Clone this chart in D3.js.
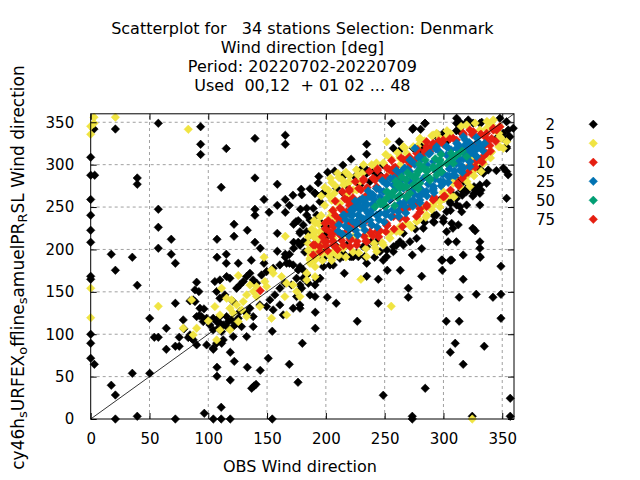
<!DOCTYPE html>
<html><head><meta charset="utf-8">
<script src="https://cdn.jsdelivr.net/npm/d3@7"></script>
<style>body{margin:0;background:#fff}svg{display:block}text{font-family:"DejaVu Sans",sans-serif;fill:#000;white-space:pre}</style>
</head><body><div id="chart"></div>
<script>
const titleLines = ["Scatterplot for   34 stations Selection: Denmark","Wind direction [deg]","Period: 20220702-20220709","Used  00,12  + 01 02 ... 48"];
const xLabel = "OBS Wind direction";
const yLabelParts = [["cy46h",0],["s",1],["URFEX",0],["o",1],["ffline",0],["s",1],["amuelPR",0],["R",1],["SL Wind direction",0]];
const xTicks = [0,50,100,150,200,250,300,350];
const yTicks = [0,50,100,150,200,250,300,350];
const legendLabels = ["2","5","10","25","50","75"];

const black2 = [
[57.5,348.8],[93.5,344.8],[2.8,342],[21,342],[139.7,331],[165.5,334.7],[165.5,324],[93.5,324],[93.5,312],[115.3,319],
[0,308.7],[0,287.5],[3.4,287.5],[39.6,284.3],[39.6,276.9],[139.7,284.3],[111,273.3],[158.7,276.9],[0,259],[147.4,259],
[165.5,259],[158.7,252],[169,252],[57.5,247.4],[139.7,247.4],[139.7,240.3],[151.7,243.8],[165.5,243.8],[178.4,247.4],[0,240.3],
[0,222.6],[0,208.4],[57.5,226.1],[121.9,229.7],[133.2,222.6],[121.9,215.5],[172.6,229.7],[174.6,232.8],[176.5,234],[158.7,219],
[68.5,212],[107.4,212],[139.7,208.4],[172.6,208.4],[176.5,208.4],[172.6,201.4],[57.5,201.4],[144.2,201.4],[17.5,194.3],[35.4,190.8],
[68.5,194.3],[107.4,190.8],[115.3,194.3],[158.7,197.8],[165.5,194.3],[169,194.3],[165.5,190.8],[72,183.7],[115.3,183.7],[125.5,183.7],
[136.6,187.2],[147.4,183.7],[169,183.7],
[21,175.4],[0,168.3],[0,164.8],[39.6,157.7],[90.1,161.3],[72,136.5],[50.2,118.8],[0,99.9],[0,89.3],[0,71.6],[3.1,64.5],
[64.3,107],[54.1,96.4],[57.5,96.4],[75.3,96.4],[64.3,82.2],[72,85.8],[75.3,85.8],[35.4,53.9],[50.2,53.9],[17.5,39.8],[21,28.3],
[21,0],[39.6,3.2],[72,0],[96.6,6.7],[104.3,0],[111,0],[118.7,0],[111,13.8],[107.4,50.4],[107.4,61],[122.1,68],[118.7,78.7],
[104.3,82.2],[111.4,89.3],[144.2,57.4],[133.2,61],[151,71.6],[168.9,64.5],[136.9,36.2],[138.9,38.9],[140.6,40.9],[176.3,43.3],
[154.4,103.5],[118.7,46],[154.4,0],
[273.5,193.5],[299,187.2],[305.8,187.2],[331.3,190.8],[348.9,180.1],[299,175.4],[248.8,187.2],[252.2,175.4],[263.3,175.4],[234.7,183.7],
[241.5,190.8],[215.7,171.9],[234.7,168.3],[244.6,164.8],[281.5,168.3],[316.8,164.8],[270.1,154.2],[270.1,143.6],[313.4,143.6],[327.9,147.1],
[342.1,143.6],[348.9,147.1],[201.2,143.6],[208.8,136.5],[244.6,136.5],[191,125.9],[226.7,115.3],[191,107],[302.4,115.3],[313.4,115.3],
[348.9,118.8],[180,89.3],[310,89.3],[305.8,78.7],[334.7,85.8],[316.8,64.5],[284.5,36.2],[248.8,28],[356.8,24.4],[273.5,3.2],
[273.5,0],[324.5,3.2],[356.8,3.2],
[255.9,348.8],[273.8,341.7],[280.6,341.7],[284.3,348.8],[234.7,324],[234.7,312.3],[262.4,327.1],[262.4,316.1],[229.8,294.5],[201.5,291],
[215.6,287.5],[190.7,266.3],[197.8,266.3],[214.8,266.3],
[314,350],[319.7,350],[325.3,349],[332.5,350],[311,340],[314,339],[353.6,328],[353.6,321],[331,293],[324,293],
[311,282],[317,280],[325,263],[330,268],[332,270],[345,293],[351,296],[355,288],[307,266],[311,260],
[319.7,252.4],[331,252.4],[315.5,244.5],[294,240.6],[300,236.7],[307,230.8],[308,225],[302.7,221],[312.6,229],[304,209],
[311,209],[325,225],[327,222],[331,209],[331,201.4],[331,191.5],[281.5,201],[298.5,187.5],[307,187.5],[316.8,193.5],
[233,191.5],[234.7,203],[260,205],[217.7,205],[222,191.5],[195,205],[198,197],[191,191.5],[182,197],[178,205],
[88.7,152.3],[92,150.3],[87.2,140.5],[84.4,139.3],[88.7,138.5],[92.9,130.6],[96.3,129.9],[92.3,122],[90.1,120.8],
[94.3,120.8],[98.6,118.8],[95.7,114.9],[84.4,99.2],[83,96.1],[85.8,95.3],[87.2,93.3],[78.7,116.9],[90.1,87.4],[79.3,106.3],
[104.2,118.8],[107.1,114.9],[109.9,113],[112.7,111],[115.6,109],[108.5,107.1],[111.3,103.1],[117,114.9],[119.8,116.9],[104.2,105.1],
[101.4,111],[109.9,120.8],[115.6,120.8],[105.6,162.1],[109.9,164],[115.6,168],[118.4,166],[107.1,150.3],[109.9,142.4],[114.1,146.4],
[121.2,138.5],[124.1,154.2],[126.9,158.1],[129.7,162.1],[132.6,168],[135.4,171.9],[138.2,164],[141.1,160.1],[145.3,169.9],[149.6,173.9],
[155.2,177.8],[160.9,181.7],[166.6,183.7],[172.2,181.7],[176.5,175.8],[175.1,166],[170.8,158.1],[165.1,160.1],[160.9,154.2],[156.6,146.4],
[152.4,140.5],[149.6,132.6],[143.9,134.6],[135.4,130.6],[132.6,124.7],[138.2,120.8],[126.9,126.7],[125.5,118.8],[124.1,113],[121.2,109],
[112.7,93.3],[107.1,89.4],[104.2,83.5],[98.6,87.4],[121.2,97.2],[128.3,109],[132.6,97.2],[138.2,109],[155.2,128.7],[163.7,122.8],
[160.9,134.6],[175.1,144.4],[177.9,134.6],[172.2,130.6],
[190.8,266.2],[197.8,266.2],[183.7,248.5],[192.2,240.6],[186.5,234.7],[196.4,230.8],[200.7,226.9],[197.8,219],[183.7,221],[178,219],
[180.8,209.2],[187.9,199.3],[195,199.3],[200.7,215.1],[209.2,203.3],[214.8,195.4],[220.5,191.5],[212,189.5],[206.3,181.6],[226.2,195.4],
[231.8,203.3],[238.9,209.2],[243.2,209.2],[246,197.4],[251.7,199.3],[257.4,203.3],[263,209.2],[265.9,219],[214.8,287.8],[227.6,278],
[217.7,276],[224.8,285.8],[234.7,289.8],[243.2,285.8],[248.9,281.9],[263,287.8],[260.2,293.7],
[274.3,342.9],[284.3,348.8],[295.6,335],[299.8,333],[311.2,348.8],[314,344.8],[331,348.8],[350.9,337],[355.1,340.9],[356.5,333],
[353.7,319.3],[311.2,281.9],[315.4,270.1],[319.7,272.1],[331,295.7],[333.9,289.8],[338.1,293.7],[353.7,291.8],[328.2,270.1],[331,266.2],
[353.7,260.3],[305.5,256.4],[297,258.3],[314,250.5],
[234.7,293.7],[240.3,291.8],[246,287.8],[248.9,299.6],[237.5,280],[257.4,319.3],[274.4,319.3],[278.6,315.4],[281.4,321.2],[294.2,333],
[299.9,337],[302.7,327.1],[229,276],[217.7,276],[209.2,272.1],[195,256.4],[189.3,248.5],[183.7,240.6],[180.8,228.8],[178,221],
[186.5,217.1],[183.7,209.2],[311.2,264.2],[319.7,268.2],[325.4,272.1],[331,276],[336.7,278],[332.5,291.8],[311.2,252.4],[302.7,244.6],
[299.9,232.8],[291.4,232.8],[282.9,225],[277.2,213.1],[271.5,209.2],[265.9,205.3],[257.4,197.4],[251.7,191.5],[348,354.7],[353.7,350.7],
[359.4,342.9],[355.1,333],[345.2,331.1],[321.1,352.7],[311.2,354.7],[314,342.9],
[178,179.7],[180.8,175.8],[183.7,169.9],[180.8,166],[178,158.1],[179.4,154.2],[185.1,160.1],[190.8,158.1],[186.5,146.3],[190.8,144.4],
[178,130.6],[192.2,164],[195,166],[197.8,179.7],[203.5,181.7],[197.8,189.6],[204.9,191.5],[212,191.5],[214.8,191.5],[223.3,191.5],[227.6,191.5],
[179.5,264.5],[186.5,271.5],[193.5,278.5],[207.5,292.5],[214.5,299.5],[221.5,306.5],[172,264],[179,271],[194,286],
[276,224],[284,232],[292,240],[306,254],[316,264],[326,274],[292,232],[306,246],[326,266]
];

const yellow5 = [
[165.5,215.5],[147.4,190.8],[2.8,356],[21,356],[0,345.3],[2.8,348.8],[0,335.8],[83,341.7],[0,154.2],[57.5,133],[0,119.5],
[229.8,164.8],[255.6,133],[324.5,0],
[125.5,169.2],[111.3,154.2],[115.6,142.4],[118.4,130.6],[124.1,134.6],[132.6,146.4],[138.2,150.3],[135.4,158.1],[141.1,156.2],[148.1,162.1],
[153.8,175.8],[162.3,168],[166.6,160.1],[172.2,158.1],[165.1,144.4],[153.8,118.8],[143.9,132.6],[132.6,120.8],[125.5,114.9],[118.4,105.1],
[109.9,105.1],[107.1,93.3],[100,115.7],[90.1,107.1],[87.2,99.2],[78.7,107.1],[85.8,140.5],[105.6,132.6],[109.9,122.8],[121.2,124.7],
[128.3,128.7],[166.6,122.8],[175.1,150.3],[155.2,171.9],[141.1,144.4],[149.6,156.2],[119.8,140.5],[129.7,138.5],
[186.5,187.6],[190.8,187.6],[190.8,179.7],[183.7,171.9],[183.7,164],[190.8,167.9],[178,144.4],[209.2,193.5],
[220.5,279.9],[226.2,270.1],[217.7,262.2],[212,254.4],[206.3,246.5],[203.5,238.7],[209.2,234.7],[195,238.7],[190.8,230.8],[189.3,217],
[195,215.1],[206.3,213.1],[214.8,217],[223.3,215.1],[234.7,215.1],[246,221],[254.5,219],[263,226.9],[268.7,230.8],[230.4,228.8],
[192.2,191.5],[186.5,183.6],[214.8,201.3],
[280,329.1],[274.3,321.2],[268.7,313.4],[263,309.5],[294.2,337],[305.5,337],[319.7,346.8],[331,340.9],[342.4,352.7],[348,333],
[348,321.2],[339.5,313.4],[328.2,301.6],[333.9,305.5],[325.3,291.8],[319.7,285.9],[308.3,278],[299.8,266.2],[291.3,254.4],[282.8,248.5],
[322.5,274.1],[336.7,325.2],[348,344.8],
[251.7,327.1],[265.9,321.2],[263,307.5],[254.5,291.8],[243.2,295.7],[229,280],[223.3,270.1],[217.7,264.2],[209.2,256.4],[204.9,244.6],
[200.7,232.8],[195,221],[192.2,209.2],[189.3,201.3],[186.5,189.5],[280,331.1],[277.2,319.3],[271.5,307.5],[291.3,335],[297,331.1],
[302.7,333],[263,299.6],[336.7,342.9],[353.7,327.1],[350.9,319.3],
[299.9,268.2],[305.5,264.2],[291.4,252.4],[297,256.4],[285.7,240.6],[277.2,232.8],[271.5,228.8],[263,221],[254.5,213.1],[248.9,205.3],
[243.2,197.4],[234.7,191.5],[212,201.3],[206.3,197.4],[197.8,205.3],[308.4,283.9],[316.9,287.8],[322.5,299.6],[325.4,307.5],
[273,226],[279,235],[285,238],[290,247],[297,250],[301,260],[309,262],
[242,202],[248,208],[254,214],[260,221],[314,274],[320,280],[326,287],[332,292],
[228,196],[234,201],[241,207],[334,301],[340,308],
[217,191],[223,197],[341,315],[347,321],
[205,187],[211,193],[349,331],[197,187],[203,193],[347,337],
[191,189],[197,195],[343,341],[187,193],[193,199],[341,347],
[185,199],[191,205],[337,351],[185,207],[191,213],[327,349],
[185,215],[191,221],[315,345],[188,224],[194,230],[303,340],
[190,234],[196,240],[278,322],[284,328],[290,334],
[199,252],[205,258],[249,302],[255,308],[261,314],[267,320],
[203,263],[207,266],[215,276],[219,279],[227,288],[231,290],[239,300],[243,302],[251,312],
[196,263],[202,270],[208,275],[214,282],[220,287],[226,294],[232,300],
[199,273],[205,279],[211,285],[217,291],[204,284],[210,290]
];

const red10 = [
[144.2,151.3],
[220.5,256.4],[229,258.3],[226.2,250.4],[217.7,242.6],[212,234.7],[206.3,226.9],[204.9,219],[212,219],[217.7,221],[223.3,224.9],
[195,203.3],[220.5,230.8],[243.2,274],[251.7,285.8],[260.2,287.8],[263,281.9],[238.9,228.8],[229,230.8],[251.7,230.8],[199.3,230.8],
[190.8,205.2],[257.4,238.7],[265.9,246.5],[234.7,234.7],
[277.2,313.4],[285.7,321.2],[291.3,325.2],[299.8,329.1],[308.3,331.1],[316.8,337],[322.5,340.9],[328.2,325.2],[333.9,321.2],[336.7,337],
[342.4,342.9],[345.2,340.9],[268.7,305.5],[268.7,262.3],[277.2,254.4],[285.7,250.5],[291.3,258.3],[271.5,250.5],[263,246.5],[331,305.5],
[336.7,313.4],
[257.4,295.7],[263,287.8],[248.9,283.9],[243.2,272.1],[234.7,264.2],[223.3,252.4],[217.7,244.6],[212,232.8],[207.8,221],[200.7,209.2],
[189.3,205.3],[277.2,307.5],[288.5,315.4],[294.2,323.2],[285.7,327.1],
[263,236.7],[251.7,228.8],[243.2,221],[268.7,248.5],[285.7,252.4],[234.7,209.2],[226.2,205.3],[220.5,213.1],[212,217.1],[206.3,205.3],
[195,197.4],[189.3,193.5],[325.4,338.9],[331,335],[336.7,327.1],[342.4,340.9],[348,344.8],
[300,262],[306,270],[312,278],[318,288],[324,298],[280,244],[292,262],[272,300],[282,310],[258,290],
[258,224],[265,227],[268,236],[277,239],[280,248],[292,260],[301,263],[313,275],[316,284],
[245,215],[251,221],[321,291],[327,297],[333,303],
[234,210],[240,216],[246,222],[252,228],[322,298],[328,304],[334,310],[340,316],
[220.5,203.5],[226.5,209.5],[232.5,215.5],[237.5,220.5],[339.5,322.5],[344.5,327.5],
[210,200],[215,205],[221,211],[341,331],[201.5,198.5],[207.5,204.5],[213.5,210.5],[335.5,332.5],
[200,204],[206,210],[332,336],[198.5,209.5],[204.5,215.5],[324.5,335.5],
[197,215],[203,221],[311,329],[317,335],[199.5,224.5],[205.5,230.5],[211.5,236.5],[299.5,324.5],[305.5,330.5],
[202,234],[208,240],[214,246],[220,252],[284,316],[290,322],[296,328],
[206,246],[212,249],[218,258],[223,261],[230,270],[235,273],[242,282],[247,285],[254,294],[259,297],[266,306],[271,309],[278,318],
[208,257],[216,260],[220,269],[228,272],[232,281],[240,284],[244,293],[252,296],[256,305],[264,308],
[214,268],[220,271],[225,280],[232,283],[237,292],[244,295]
];

const blue25 = [
[223.3,246.5],[227.6,240.6],[231.8,250.4],[236.1,242.6],[240.3,254.4],[246,242.6],[250.3,250.4],[254.5,258.3],[257.4,246.5],[263,254.4],
[268.7,262.2],[265.9,274],[258.8,270.1],[246,262.2],[237.5,262.2],[233.3,234.7],[268.7,281.9],[227.6,256.4],
[265.8,293.7],[271.5,305.5],[280,309.5],[288.5,313.4],[294.2,321.2],[302.7,321.2],[311.2,325.2],[319.7,325.2],[325.3,321.2],[331,321.2],
[328.2,309.5],[322.5,297.7],[314,293.7],[305.5,285.9],[299.8,278],[291.3,270.1],[282.8,266.2],[274.3,258.3],[265.8,254.4],[263,274.1],
[316.8,333],[280,258.3],[299.8,289.8],[319.7,317.3],
[271.5,291.8],[280,295.7],[291.4,303.6],[302.7,311.4],[311.2,319.3],[319.7,323.2],[325.4,315.4],[322.5,303.6],[316.9,295.7],[308.4,287.8],
[299.9,280],[291.4,272.1],[280,264.2],[271.5,256.4],[263,252.4],[251.7,244.6],[243.2,240.6],[234.7,236.7],[226.2,232.8],[220.5,240.6],
[223.3,248.5],[231.8,256.4],[240.3,264.2],[248.9,268.2],[257.4,276],[263,280],[265.9,272.1],[271.5,280],[282.9,283.9],[214.8,240.6],
[275.8,319.3],[286,300],[294,292],[306,300],[314,306],[252,278],[258,284],[240,248],[274,270],[288,282],
[262,239],[268,243],[274,251],[280,255],[286,263],[292,267],[298,275],[304,279],[310,287],[316,291],
[243.5,226.5],[249.5,232.5],[255.5,238.5],[261.5,244.5],[267.5,250.5],[273.5,256.5],[279.5,262.5],[285.5,268.5],[291.5,274.5],[297.5,280.5],
[303.5,286.5],[309.5,292.5],[315.5,298.5],[321.5,304.5],[327.5,310.5],[333.5,316.5],
[227,217],[233,223],[239,229],[245,235],[251,241],[257,247],[263,253],[269,259],[275,265],[281,271],[287,277],[293,283],[299,289],
[305,295],[311,301],[317,307],[323,313],[329,319],[335,325],
[219.5,216.5],[225.5,222.5],[231.5,228.5],[237.5,234.5],[243.5,240.5],[317.5,314.5],[323.5,320.5],[329.5,326.5],
[214,218],[220,224],[226,230],[232,236],[238,242],[316,320],[322,326],[328,332],
[210.5,221.5],[216.5,227.5],[222.5,233.5],[228.5,239.5],[234.5,245.5],[240.5,251.5],[306.5,317.5],[312.5,323.5],[318.5,329.5],
[211,229],[217,235],[223,241],[229,247],[235,253],[241,259],[297,315],[303,321],
[215.5,240.5],[221.5,246.5],[227.5,252.5],[233.5,258.5],[239.5,264.5],[245.5,270.5],[251.5,276.5],[257.5,282.5],[263.5,288.5],[269.5,294.5],
[275.5,300.5],[281.5,306.5],[287.5,312.5],[293.5,318.5],
[225,257],[231,260],[236,269],[243,272],[248,281],[255,284],[260,293],[267,296],[272,305],[279,308]
];

const green50 = [
[246,256.3],[251.7,268.1],[260.2,276],[263,264.2],[241.8,250.4],[268.7,274],
[274.3,285.9],[280,293.7],[285.7,285.9],[291.3,297.7],[297,305.5],[302.7,301.6],[308.3,309.5],[314,313.4],[319.7,309.5],
[271.5,266.2],[280,278],[294.2,287.8],
[271.5,287.8],[277.2,287.8],[285.7,291.8],[291.4,295.7],[297,299.6],[308.4,307.5],[311.2,311.4],[288.5,283.9],
[274.3,276],[251.7,260.3],[257.4,268.2],[248.9,256.4],[263,272.1],
[258.5,251.5],[268.5,261.5],[278.5,271.5],[288.5,281.5],[298.5,291.5],[308.5,301.5],
[251,251],[261,261],[276,276],[286,286],[296,296],[306,306],[316,316],
[246.5,253.5],[256.5,263.5],[266.5,273.5],[276.5,283.5],[286.5,293.5],[296.5,303.5],[306.5,313.5],
[253,267],[263,277],[268,282],[278,292],[283,297],[293,307],[298,312],
[259.5,280.5],[264.5,285.5],[269.5,290.5],[279.5,300.5],[284.5,305.5]
];

const red75 = [];

const W = 640, H = 480;
const svg = d3.select("#chart").append("svg").attr("width", W).attr("height", H);
const x = d3.scaleLinear().domain([0, 360]).range([90.7, 514]);
const y = d3.scaleLinear().domain([0, 360]).range([419, 113.8]);
const x0 = x(0), x1 = x(360), y0 = y(0), y1 = y(360);

const grid = svg.append("g");
grid.selectAll("line.gx").data(xTicks.filter(t => t > 0)).join("line")
  .attr("x1", d => x(d)).attr("x2", d => x(d)).attr("y1", y0).attr("y2", y1)
  .attr("stroke", "#a0a0a0").attr("stroke-dasharray", "3,3").attr("stroke-width", 1);
grid.selectAll("line.gy").data(yTicks.filter(t => t > 0)).join("line")
  .attr("x1", x0).attr("x2", x1).attr("y1", d => y(d)).attr("y2", d => y(d))
  .attr("stroke", "#a0a0a0").attr("stroke-dasharray", "3,3").attr("stroke-width", 1);

const diamond = r => `M0,${-r}L${r},0L0,${r}L${-r},0Z`;
const seriesList = [
  {data: black2, color: "#000000"},
  {data: yellow5, color: "#f0e442"},
  {data: red10, color: "#e51e10"},
  {data: blue25, color: "#0072b2"},
  {data: green50, color: "#009e73"},
  {data: red75, color: "#e51e10"}
];
const R = 4.2;
seriesList.forEach(s => {
  svg.append("g").selectAll("path").data(s.data).join("path")
    .attr("d", diamond(R))
    .attr("transform", d => `translate(${x(d[0])},${y(d[1])})`)
    .attr("fill", s.color).attr("stroke", s.color).attr("stroke-width", 0.6);
});

svg.append("line").attr("x1", x(0)).attr("y1", y(0)).attr("x2", x(360)).attr("y2", y(360))
  .attr("stroke", "#000").attr("stroke-width", 0.8);

const axB = d3.axisBottom(x).tickValues(xTicks).tickSizeInner(-6).tickSizeOuter(0).tickPadding(14);
const axL = d3.axisLeft(y).tickValues(yTicks).tickSizeInner(-6).tickSizeOuter(0).tickPadding(16.5);
const axT = d3.axisTop(x).tickValues(xTicks).tickSizeInner(-6).tickSizeOuter(0).tickFormat("");
const axR = d3.axisRight(y).tickValues(yTicks).tickSizeInner(-6).tickSizeOuter(0).tickFormat("");
[[axB, `translate(0,${y0})`], [axL, `translate(${x0},0)`], [axT, `translate(0,${y1})`], [axR, `translate(${x1},0)`]].forEach(([ax, tr]) => {
  const g = svg.append("g").attr("transform", tr).call(ax);
  g.select(".domain").remove();
  g.selectAll("line").attr("stroke", "#000");
  g.selectAll("text").attr("font-family", "DejaVu Sans").attr("font-size", 15).attr("fill", "#000");
});
svg.append("rect").attr("x", x0).attr("y", y1).attr("width", x1 - x0).attr("height", y0 - y1)
  .attr("fill", "none").attr("stroke", "#000").attr("stroke-width", 1);

// title
svg.append("g").selectAll("text").data(titleLines).join("text")
  .attr("x", (x0 + x1) / 2).attr("y", (d, i) => 33.5 + i * 19).attr("text-anchor", "middle")
  .attr("font-size", 16).text(d => d);

// x label
svg.append("text").attr("x", 300).attr("y", 471.5).attr("text-anchor", "middle").attr("font-size", 16).text(xLabel);

// y label with subscripts
const yl = svg.append("text").attr("transform", "translate(23.5,267.5) rotate(-90)")
  .attr("text-anchor", "middle").attr("font-size", 17);
yLabelParts.forEach(([t, sub], i) => {
  const prevSub = i > 0 ? yLabelParts[i - 1][1] : 0;
  yl.append("tspan").attr("font-size", sub ? 13 : 17)
    .attr("dy", sub ? 3.5 : (prevSub ? -3.5 : 0)).text(t);
});

// legend
const lg = svg.append("g");
legendLabels.forEach((lab, i) => {
  const yy = 124.3 + i * 19;
  lg.append("text").attr("x", 555).attr("y", yy + 5.6).attr("text-anchor", "end").attr("font-size", 15).text(lab);
  lg.append("path").attr("d", diamond(R)).attr("transform", `translate(593.3,${yy})`)
    .attr("fill", seriesList[i].color).attr("stroke", seriesList[i].color).attr("stroke-width", 0.6);
});
</script></body></html>
